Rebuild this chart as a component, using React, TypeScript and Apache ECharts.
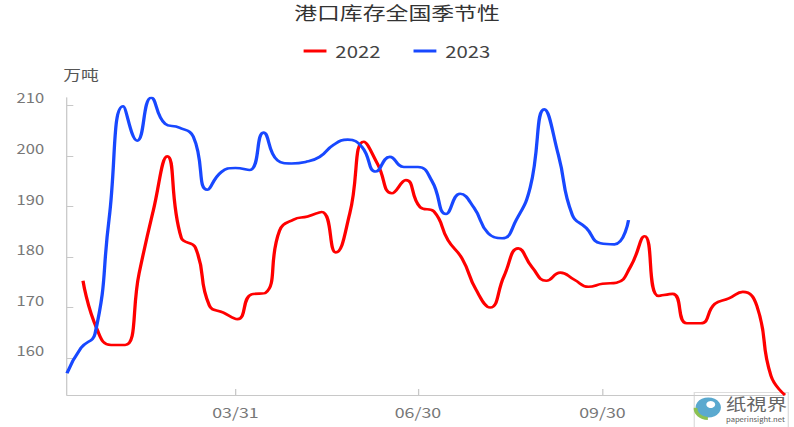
import React, { useEffect, useRef } from 'react';
import * as echarts from 'echarts';

const chartTitle = '港口库存全国季节性';
const unitName = '万吨';
const seriesNames = ['2022', '2023'];

const dates2022 = [
  '01/14', '01/21', '01/28', '02/04', '02/11', '02/18', '02/25', '03/04', '03/11', '03/18', '03/25',
  '04/01', '04/08', '04/15', '04/22', '04/29', '05/06', '05/13', '05/20', '05/27', '06/03', '06/10',
  '06/17', '06/24', '07/01', '07/08', '07/15', '07/22', '07/29', '08/05', '08/12', '08/19', '08/26',
  '09/02', '09/09', '09/16', '09/23', '09/30', '10/07', '10/14', '10/21', '10/28', '11/04', '11/11',
  '11/18', '11/25', '12/02', '12/09', '12/16', '12/23', '12/30',
];
const values2022 = [
  175.3, 165.7, 162.6, 162.6, 176.8, 189.1, 199.9, 183.8, 181.9, 170.4, 169.0,
  167.7, 172.6, 172.9, 185.2, 187.4, 188.0, 188.9, 180.9, 188.6, 202.8, 198.3,
  192.6, 195.2, 189.9, 189.0, 183.3, 179.7, 173.5, 170.0, 176.3, 181.7, 177.9,
  175.3, 176.9, 175.5, 174.1, 174.7, 174.9, 178.1, 184.1, 172.3, 172.7, 166.9,
  166.9, 170.7, 171.8, 173.1, 170.3, 156.5, 152.7,
];

const dates2023 = [
  '01/06', '01/13', '01/20', '01/27', '02/03', '02/10', '02/17', '02/24', '03/03', '03/10', '03/17',
  '03/24', '03/31', '04/07', '04/14', '04/21', '04/28', '05/05', '05/12', '05/19', '05/26', '06/02',
  '06/09', '06/16', '06/23', '06/30', '07/07', '07/14', '07/21', '07/28', '08/04', '08/11', '08/18',
  '08/25', '09/01', '09/08', '09/15', '09/22', '09/29', '10/06', '10/13',
];
const values2023 = [
  157.0, 162.0, 164.8, 187.5, 209.8, 203.0, 211.5, 206.3, 205.6, 203.8, 193.3,
  196.8, 197.6, 197.2, 204.6, 199.1, 198.5, 198.8, 199.8, 202.2, 203.2, 201.8,
  196.9, 199.8, 197.8, 197.8, 195.0, 188.5, 192.5, 189.7, 184.7, 183.7, 187.3,
  193.8, 209.2, 200.2, 188.3, 185.7, 182.7, 182.5, 187.3,
];

const xRange = ['01/06', '12/30'];
const xTickLabels = ['03/31', '06/30', '09/30'];
const yTickValues = [160, 170, 180, 190, 200, 210];

const MONTH_DAYS = [31, 28, 31, 30, 31, 30, 31, 31, 30, 31, 30, 31];
function dayOfYear(md: string): number {
  const [m, d] = md.split('/').map(Number);
  let s = 0;
  for (let i = 0; i < m - 1; i++) s += MONTH_DAYS[i];
  return s + d - 1;
}

const INNER_W = 625;
const STRETCH = 794 / INNER_W;
const FONT = '"Noto Sans CJK SC", "Noto Sans", sans-serif';

export default function App() {
  const ref = useRef<HTMLDivElement>(null);
  useEffect(() => {
    document.body.style.margin = '0';
    const chart = echarts.init(ref.current!, null, { renderer: 'svg' });
    const xTickDays = xTickLabels.map(dayOfYear);
    const labelByDay: Record<number, string> = {};
    xTickLabels.forEach((l) => (labelByDay[dayOfYear(l)] = l));

    chart.setOption({
      animation: false,
      textStyle: { fontFamily: FONT },
      title: {
        text: chartTitle,
        left: 'center',
        top: 3,
        padding: 0,
        textStyle: { fontSize: 18, fontWeight: 'normal', color: '#333', fontFamily: FONT },
      },
      legend: {
        data: seriesNames,
        top: 38,
        left: 'center',
        icon: 'rect',
        itemWidth: 18,
        itemHeight: 3,
        itemGap: 26,
        textStyle: { fontSize: 16, color: '#444', fontFamily: FONT, padding: [0, 0, 0, 2] },
      },
      grid: { left: 52.7, right: 7.1, top: 97.7, bottom: 32 },
      xAxis: {
        type: 'value',
        min: dayOfYear(xRange[0]),
        max: dayOfYear(xRange[1]),
        splitLine: { show: false },
        axisLine: { show: true, lineStyle: { color: '#c8c8c8', width: 1 } },
        axisTick: { show: true, inside: true, length: 6, customValues: xTickDays, lineStyle: { color: '#c8c8c8' } },
        axisLabel: {
          customValues: xTickDays,
          formatter: (v: number) => labelByDay[v] ?? '',
          fontSize: 14,
          color: '#777',
          margin: 10,
          fontFamily: FONT,
        },
      },
      yAxis: {
        type: 'value',
        min: 'dataMin',
        max: 'dataMax',
        name: unitName,
        nameLocation: 'end',
        nameGap: 17,
        nameTextStyle: { fontSize: 14, color: '#555', align: 'left', padding: [0, 0, 0, -3], fontFamily: FONT },
        splitLine: { show: false },
        axisLine: { show: true, lineStyle: { color: '#c8c8c8', width: 1 } },
        axisTick: { show: true, inside: true, length: 5, customValues: yTickValues, lineStyle: { color: '#c8c8c8' } },
        axisLabel: {
          customValues: yTickValues,
          fontSize: 13,
          color: '#777',
          margin: 18,
          verticalAlign: 'bottom',
          padding: [0, 0, 1, 0],
          fontFamily: FONT,
        },
      },
      series: [
        {
          name: seriesNames[0],
          type: 'line',
          smooth: true,
          symbol: 'none',
          color: '#ff0000',
          lineStyle: { width: 2.6, color: '#ff0000' },
          data: dates2022.map((d, i) => [dayOfYear(d), values2022[i]]),
        },
        {
          name: seriesNames[1],
          type: 'line',
          smooth: true,
          symbol: 'none',
          color: '#1848ff',
          lineStyle: { width: 2.6, color: '#1848ff' },
          data: dates2023.map((d, i) => [dayOfYear(d), values2023[i]]),
        },
      ],
      graphic: [
        {
          type: 'group',
          left: 545,
          top: 392,
          children: [
            { type: 'rect', shape: { x: 0, y: 0, width: 74, height: 35 }, style: { fill: '#fff', stroke: '#ddd', lineWidth: 1 } },
            { type: 'circle', shape: { cx: 11, cy: 15, r: 10 }, style: { fill: '#5aa9cf' } },
            { type: 'circle', shape: { cx: 13, cy: 12, r: 3.5 }, style: { fill: '#fff' } },
            { type: 'arc', shape: { cx: 11, cy: 16, r: 10, startAngle: 1.6, endAngle: 3.2 }, style: { stroke: '#8cc152', lineWidth: 3, fill: 'none' } },
            { type: 'text', x: 25, y: 2, style: { text: '纸視界', fontSize: 16, fill: '#666', fontFamily: '"Noto Sans CJK TC", sans-serif' } },
            { type: 'text', x: 25, y: 24, style: { text: 'paperinsight.net', fontSize: 6, fill: '#555', fontFamily: FONT } },
          ],
        },
      ],
    });
    return () => chart.dispose();
  }, []);
  return (
    <div
      ref={ref}
      style={{ width: INNER_W, height: 427, transform: `scaleX(${STRETCH})`, transformOrigin: '0 0' }}
    />
  );
}
